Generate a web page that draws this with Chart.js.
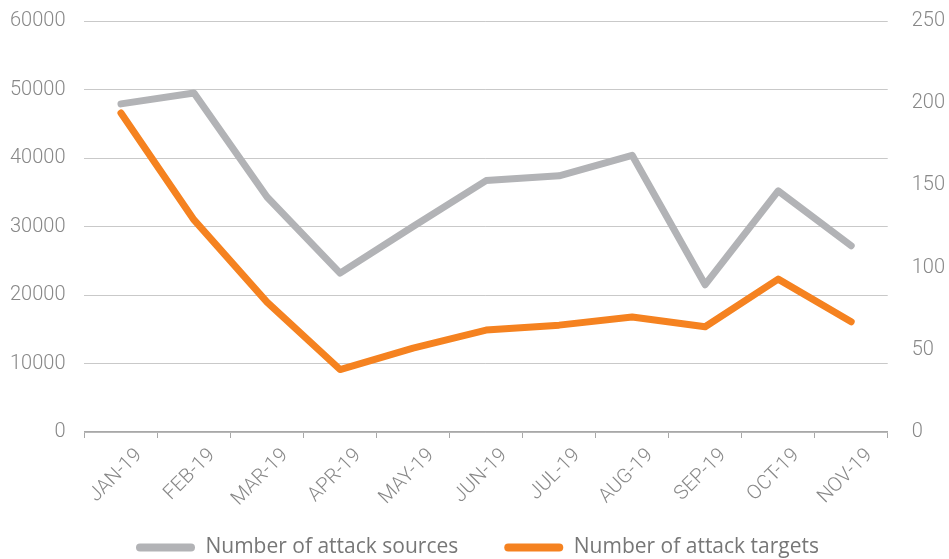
<!DOCTYPE html>
<html>
<head>
<meta charset="utf-8">
<script src="https://cdn.jsdelivr.net/npm/chart.js@4.4.1/dist/chart.umd.min.js"></script>
<style>
  html, body { margin: 0; padding: 0; background: #fff; }
  #wrap { width: 949px; height: 559px; position: relative; }
</style>
</head>
<body>
<div id="wrap"><canvas id="myChart"></canvas></div>
<script>
const months = ["JAN-19", "FEB-19", "MAR-19", "APR-19", "MAY-19", "JUN-19",
  "JUL-19", "AUG-19", "SEP-19", "OCT-19", "NOV-19"];
const attackSources = [47900, 49500, 34300, 23200, 30000, 36700, 37400, 40400, 21500, 35200, 27200];
const attackTargets = [194, 129, 79, 38, 51, 62, 65, 70, 64, 93, 67];

const grey = "#b2b3b6";
const orange = "#f58220";
const tickColor = "#888";

const tickFont = { family: "Roboto", size: 20, weight: 300 };

// legend padding also spaces the two items apart, so stretch the legend box
// upwards over the month labels instead of letting it eat into the plot
const raiseLegend = {
  id: "raiseLegend",
  afterLayout: (chart) => {
    chart.legend.top -= 21;
  },
};

new Chart(document.getElementById("myChart"), {
  type: "line",
  data: {
    labels: months,
    datasets: [
      {
        label: "Number of attack sources",
        data: attackSources,
        borderColor: grey,
        backgroundColor: grey,
        yAxisID: "y",
      },
      {
        label: "Number of attack targets",
        data: attackTargets,
        borderColor: orange,
        backgroundColor: orange,
        yAxisID: "y1",
      },
    ],
  },
  plugins: [raiseLegend],
  options: {
    responsive: true,
    maintainAspectRatio: false,
    animation: false,
    layout: { padding: { left: 10, right: 4, top: 21, bottom: 0 } },
    elements: {
      line: { borderWidth: 7, tension: 0, borderCapStyle: "round", borderJoinStyle: "round" },
      point: { radius: 0, hoverRadius: 0 },
    },
    plugins: {
      tooltip: { enabled: false },
      legend: {
        position: "bottom",
        maxHeight: 47,
        labels: {
          boxWidth: 59,
          boxHeight: 8,
          padding: 46,
          useBorderRadius: true,
          borderRadius: 4,
          color: "#777",
          font: { family: "Open Sans", size: 21 },
          generateLabels: (chart) =>
            chart.data.datasets.map((ds, i) => ({
              text: ds.label,
              fillStyle: ds.borderColor,
              strokeStyle: ds.borderColor,
              lineWidth: 0,
              borderRadius: 4,
              fontColor: "#777",
              datasetIndex: i,
            })),
        },
      },
    },
    scales: {
      x: {
        offset: true,
        grid: {
          offset: true,
          drawOnChartArea: false,
          drawTicks: true,
          tickLength: 6,
          color: "#a8a8a8",
        },
        border: { color: "#a8a8a8", width: 1.5 },
        ticks: {
          color: tickColor,
          font: { family: "Roboto", size: 20, weight: 300 },
          minRotation: 45,
          maxRotation: 45,
          labelOffset: 18,
          padding: 6,
        },
        // fixed band for the slanted month labels
        afterFit: (scale) => { scale.height = 80; },
      },
      y: {
        position: "left",
        min: 0,
        max: 60000,
        // the tick marks are invisible, they only space the labels off the plot
        grid: { color: "#c9c9c9", lineWidth: 1, drawTicks: true, tickLength: 19, tickColor: "rgba(0,0,0,0)" },
        border: { display: false },
        ticks: {
          stepSize: 10000,
          color: tickColor,
          font: tickFont,
          padding: 0,
          callback: (v) => String(v),
        },
      },
      y1: {
        position: "right",
        min: 0,
        max: 250,
        grid: { drawOnChartArea: false, drawTicks: true, tickLength: 24, tickColor: "rgba(0,0,0,0)" },
        border: { display: false },
        ticks: { stepSize: 50, color: tickColor, font: tickFont, padding: 0 },
      },
    },
  },
});
</script>
</body>
</html>
